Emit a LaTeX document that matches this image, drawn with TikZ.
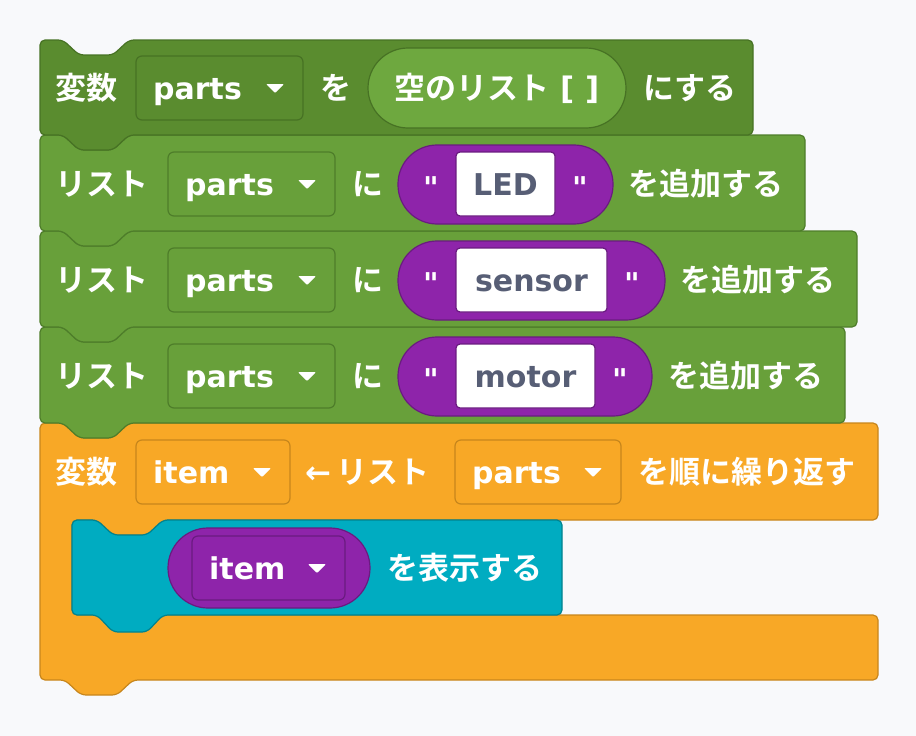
\documentclass[tikz,border=0pt]{standalone}
\usepackage{fontspec}
\setmainfont{DejaVu Sans}
\newfontfamily\jp{Noto Sans CJK JP Bold}
\newfontfamily\lt{DejaVu Sans Bold}[Ligatures=ResetAll]
\definecolor{bg}{HTML}{F8F9FB}
\definecolor{dg}{HTML}{5A8C2F}
\definecolor{dgo}{HTML}{477224}
\definecolor{lg}{HTML}{68A03A}
\definecolor{lgo}{HTML}{4E7D2A}
\definecolor{pg}{HTML}{6EA83F}
\definecolor{org}{HTML}{F8A826}
\definecolor{orgo}{HTML}{C7861C}
\definecolor{tl}{HTML}{00ACC1}
\definecolor{tlo}{HTML}{00838F}
\definecolor{pu}{HTML}{8E24AA}
\definecolor{puo}{HTML}{6A1B80}
\definecolor{tx}{HTML}{575E75}
\tikzset{
 blk/.style={draw=#1, line width=1.2pt, rounded corners=5pt, line join=round},
 lat/.style={font=\fontsize{30}{32}\lt, text=white, inner sep=0pt, anchor=base west},
 jpt/.style={font=\fontsize{31}{33}\jp, text=white, inner sep=0pt, anchor=base west},
 fld/.style={draw=#1, line width=1.2pt, rounded corners=6pt},
}
\newcommand\fieldd[6]{% name,x1,x2,yc,text,outline
 \draw[fld=#6] (#2,#4-32) rectangle (#3,#4+32);
 \node[lat] (#1) at (#2+17,#4+11) {#5};
 \fill[white,rounded corners=1pt] (#3-37,#4-4) -- (#3-19,#4-4) -- (#3-28,#4+5) -- cycle;
}
\newcommand\stmt[6]{% x1 x2 top bottom fill outline
 \filldraw[blk=#6, fill=#5] (#1,#3) -- (#1+23,#3) -- (#1+39,#3+15) -- (#1+73,#3+15) -- (#1+89,#3) -- (#2,#3) -- (#2,#4) -- (#1+89,#4) -- (#1+73,#4+15) -- (#1+39,#4+15) -- (#1+23,#4) -- (#1,#4) -- cycle;
}
\newcommand\qq{\symbol{34}}
\begin{document}
\begin{tikzpicture}[x=1pt,y=-1pt]
\fill[bg] (0,0) rectangle (916,736);
\useasboundingbox (0,0) rectangle (916,736);
% orange loop
\filldraw[blk=orgo, fill=org] (40,423) -- (63,423) -- (79,438) -- (113,438) -- (129,423) -- (878,423) -- (878,520) -- (163,520) -- (147,535) -- (113,535) -- (97,520) -- (72,520) -- (72,615) -- (878,615) -- (878,680) -- (133,680) -- (117,695) -- (81,695) -- (65,680) -- (40,680) -- cycle;
\node[jpt] (v2) at (55,483) {変数};
\fieldd{f5a}{136}{290}{472}{item}{orgo}
\node[jpt] (ar) at (305,483) {{\lt ←}\,リスト};
\fieldd{f5b}{455}{621}{472}{parts}{orgo}
\node[jpt] (loop) at (638,483) {を順に繰り返す};
% teal
\filldraw[blk=tlo, fill=tl] (72,520) -- (97,520) -- (113,535) -- (147,535) -- (163,520) -- (562,520) -- (562,615) -- (163,615) -- (147,632) -- (113,632) -- (97,615) -- (72,615) -- cycle;
\draw[fill=pu, draw=puo, line width=1.2pt, rounded corners=40pt] (168,528) rectangle (370,608);
\fieldd{f6}{192}{345}{568}{item}{puo}
\node[jpt] (show) at (387,579) {を表示する};
% list blocks
\stmt{40}{845}{327}{423}{lg}{lgo}
\node[jpt] (l4) at (55,387) {リスト};
\fieldd{f4}{168}{335}{376}{parts}{lgo}
\node[jpt] (n4) at (352,387) {に};
\draw[fill=pu, draw=puo, line width=1.2pt, rounded corners=39pt] (398,337) rectangle (652,416);
\node[lat] (q4a) at (423,390) {\qq};
\draw[fill=white, draw=puo, line width=1.2pt, rounded corners=4pt] (456,344) rectangle (595,408);
\node[lat, anchor=base, text=tx] (t4) at (525.5,387) {motor};
\node[lat] (q4b) at (612,390) {\qq};
\node[jpt] (a4) at (668,387) {を追加する};
\stmt{40}{857}{231}{327}{lg}{lgo}
\node[jpt] (l3) at (55,291) {リスト};
\fieldd{f3}{168}{335}{280}{parts}{lgo}
\node[jpt] (n3) at (352,291) {に};
\draw[fill=pu, draw=puo, line width=1.2pt, rounded corners=39pt] (398,241) rectangle (665,320);
\node[lat] (q3a) at (423,294) {\qq};
\draw[fill=white, draw=puo, line width=1.2pt, rounded corners=4pt] (456,248) rectangle (607,312);
\node[lat, anchor=base, text=tx] (t3) at (531.5,291) {sensor};
\node[lat] (q3b) at (624,294) {\qq};
\node[jpt] (a3) at (680,291) {を追加する};
\stmt{40}{805}{135}{231}{lg}{lgo}
\node[jpt] (l2) at (55,195) {リスト};
\fieldd{f2}{168}{335}{184}{parts}{lgo}
\node[jpt] (n2) at (352,195) {に};
\draw[fill=pu, draw=puo, line width=1.2pt, rounded corners=39pt] (398,145) rectangle (613,224);
\node[lat] (q2a) at (423,198) {\qq};
\draw[fill=white, draw=puo, line width=1.2pt, rounded corners=4pt] (456,152) rectangle (555,216);
\node[lat, anchor=base, text=tx] (t2) at (505.5,195) {LED};
\node[lat] (q2b) at (572,198) {\qq};
\node[jpt] (a2) at (628,195) {を追加する};
% set block
\stmt{40}{753}{40}{135}{dg}{dgo}
\node[jpt] (v1) at (55,99) {変数};
\fieldd{f1}{136}{303}{88}{parts}{dgo}
\node[jpt] (o1) at (320,99) {を};
\draw[fill=pg, draw=dgo, line width=1.2pt, rounded corners=40pt] (368,48) rectangle (626,128);
\node[jpt, anchor=base] (empty) at (497,99) {空のリスト{\lt\ [\ ]}};
\node[jpt] (ni) at (643,99) {にする};
\end{tikzpicture}
\end{document}
